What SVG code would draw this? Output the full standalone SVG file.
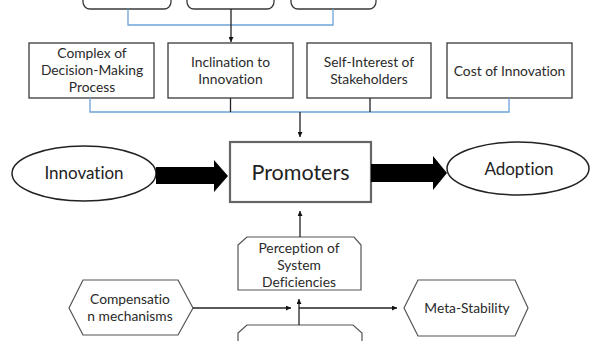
<svg xmlns="http://www.w3.org/2000/svg" width="591" height="341" viewBox="0 0 591 341">
<defs>
<style>
.box{fill:#fff;stroke:#3a3a3a;stroke-width:1.3}
.hex{fill:#fff;stroke:#555;stroke-width:1.2}
text{font-variant-ligatures:none}
.t{font-family:Lato,"Liberation Sans",sans-serif;font-size:13.8px;fill:#2a2a2a;text-anchor:middle}
.big{font-family:Lato,"Liberation Sans",sans-serif;fill:#222;text-anchor:middle}
.blue{fill:none;stroke:#6fa3d8;stroke-width:1.3}
.blk{fill:none;stroke:#222;stroke-width:1.3}
</style>
<marker id="ah" viewBox="0 0 10 10" refX="10" refY="5" markerWidth="5" markerHeight="5" orient="auto" markerUnits="userSpaceOnUse">
<path d="M0,0 L10,5 L0,10 z" fill="#111"/>
</marker>
</defs>
<rect width="591" height="341" fill="#fff"/>

<g id="top1"><rect class="box" x="83" y="-30" width="88" height="39" rx="7"/></g>
<g id="top2"><rect class="box" x="187" y="-30" width="87" height="39" rx="7"/></g>
<g id="top3"><rect class="box" x="291" y="-30" width="85" height="39" rx="7"/></g>

<g id="complex"><rect class="box" x="29" y="43" width="125" height="55"/>
<text class="t" x="92" y="58">Complex of</text><text class="t" x="92" y="75">Decision-Making</text><text class="t" x="92" y="92">Process</text></g>
<g id="inclination"><rect class="box" x="168" y="43" width="125" height="55"/>
<text class="t" x="230.5" y="67">Inclination to</text><text class="t" x="230.5" y="84">Innovation</text></g>
<g id="selfinterest"><rect class="box" x="307" y="43" width="124" height="55"/>
<text class="t" x="369" y="67">Self-Interest of</text><text class="t" x="369" y="84">Stakeholders</text></g>
<g id="cost"><rect class="box" x="447" y="43" width="125" height="55"/>
<text class="t" x="509.5" y="76">Cost of Innovation</text></g>

<g id="innovation"><ellipse cx="84" cy="173.5" rx="72" ry="27.5" fill="#fff" stroke="#222" stroke-width="1.5"/>
<text class="big" x="84" y="179" font-size="17">Innovation</text></g>
<g id="promoters"><rect x="230" y="142" width="141" height="60" fill="#fff" stroke="#666" stroke-width="2.2"/>
<text class="big" x="300.5" y="180" font-size="21.5">Promoters</text></g>
<g id="adoption"><ellipse cx="518" cy="168.5" rx="71" ry="26.5" fill="#fff" stroke="#222" stroke-width="1.5"/>
<text class="big" x="519" y="175" font-size="17">Adoption</text></g>

<g id="perception"><polygon class="hex" points="238,245 247,237 354,237 361,245 361,290 238,290"/>
<text class="t" x="299" y="253">Perception of</text><text class="t" x="299" y="270">System</text><text class="t" x="299" y="287">Deficiencies</text></g>
<g id="compensation"><polygon class="hex" points="69,308 83,280 178,280 193,308 178,335 83,335"/>
<text class="t" x="130" y="304">Compensatio</text><text class="t" x="130" y="321">n mechanisms</text></g>
<g id="metastability"><polygon class="hex" points="404,308 418,280 515,280 528,308 515,336 418,336"/>
<text class="t" x="467" y="313">Meta-Stability</text></g>
<g id="bottom"><polygon class="hex" points="238,333 247,325 353,325 362,333 362,345 238,345"/></g>

<g id="connectors">
<polyline class="blue" points="128,9 128,25 333,25 333,9"/>
<line class="blk" x1="231" y1="9" x2="231" y2="42" marker-end="url(#ah)"/>
<polyline class="blue" points="90,98 90,112 509,112 509,98"/>
<line class="blk" x1="230.5" y1="98" x2="230.5" y2="112"/>
<line class="blk" x1="370" y1="98" x2="370" y2="112"/>
<line class="blk" x1="300" y1="112" x2="300" y2="137" marker-end="url(#ah)"/>
<polygon points="156,167 214,167 214,160 228,176 214,192 214,184 156,184" fill="#000"/>
<polygon points="371,164 433,164 433,156 447,173 433,190 433,182 371,182" fill="#000"/>
<line class="blk" x1="300" y1="237" x2="300" y2="211" marker-end="url(#ah)"/>
<line class="blk" x1="193" y1="308" x2="291" y2="308" marker-end="url(#ah)"/>
<line class="blk" x1="299" y1="325" x2="299" y2="299" marker-end="url(#ah)"/>
<line class="blk" x1="299" y1="308" x2="397" y2="308" marker-end="url(#ah)"/>
</g>
</svg>
